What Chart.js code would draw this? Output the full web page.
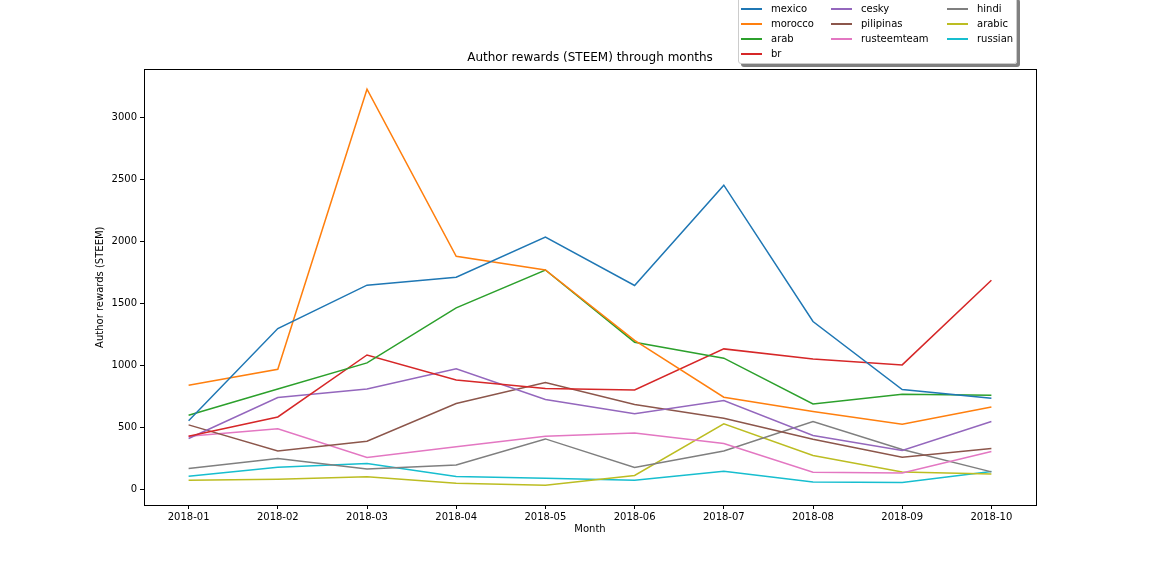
<!DOCTYPE html>
<html>
<head>
<meta charset="utf-8">
<script src="https://cdn.jsdelivr.net/npm/chart.js@4"></script>
<style>
  html, body { margin: 0; padding: 0; background: #fff; }
  #wrap { position: relative; width: 1152px; height: 576px; overflow: hidden; }
  #legend {
    position: absolute; left: 738px; top: -4px; width: 277px; height: 66px;
    background: rgba(255,255,255,0.9); border: 1px solid #cccccc; border-radius: 3px;
    box-shadow: 3px 3px 0 #808080;
    font-family: "DejaVu Sans", sans-serif; font-size: 10px; color: #000;
  }
  .item { position: absolute; height: 12px; line-height: 12px; white-space: nowrap; }
  .item .sw { position: absolute; left: 0; top: 5px; width: 21px; height: 2px; }
  .item .tx { position: absolute; left: 30px; top: 0; }
</style>
</head>
<body>
<div id="wrap">
  <canvas id="c" width="1152" height="576"></canvas>
  <div id="legend"></div>
</div>
<script>
const months = ['2018-01','2018-02','2018-03','2018-04','2018-05','2018-06','2018-07','2018-08','2018-09','2018-10'];
const mexico      = [555, 1298, 1648, 1712, 2035, 1645, 2454, 1355, 806, 736];
const morocco     = [841, 970, 3228, 1881, 1770, 1202, 744, 629, 527, 666];
const arab        = [599, 811, 1021, 1465, 1770, 1188, 1059, 690, 768, 760];
const br          = [430, 585, 1085, 884, 815, 803, 1134, 1053, 1005, 1688];
const cesky       = [411, 742, 811, 973, 726, 610, 718, 435, 315, 548];
const pilipinas   = [521, 311, 390, 694, 863, 685, 575, 406, 260, 331];
const rusteemteam = [430, 489, 258, 345, 430, 456, 371, 140, 134, 306];
const hindi       = [169, 250, 166, 198, 408, 177, 311, 548, 323, 142];
const arabic      = [75, 83, 102, 51, 35, 113, 529, 274, 142, 126];
const russian     = [107, 180, 210, 105, 91, 75, 148, 61, 56, 145];
const yTicks      = [0, 500, 1000, 1500, 2000, 2500, 3000];

const seriesNames = ['mexico','morocco','arab','br','cesky','pilipinas','rusteemteam','hindi','arabic','russian'];
const seriesData = [mexico, morocco, arab, br, cesky, pilipinas, rusteemteam, hindi, arabic, russian];
const colors = ['#1f77b4','#ff7f0e','#2ca02c','#d62728','#9467bd','#8c564b','#e377c2','#7f7f7f','#bcbd22','#17becf'];

const FONT = '"DejaVu Sans", sans-serif';
Chart.defaults.font.family = FONT;
Chart.defaults.font.size = 10;
Chart.defaults.color = '#000';

const frame = {
  id: 'frame',
  afterDraw(chart) {
    const a = chart.chartArea, ctx = chart.ctx;
    ctx.save();
    ctx.strokeStyle = '#000';
    ctx.lineWidth = 1;
    ctx.strokeRect(Math.round(a.left) + 0.5, Math.round(a.top) + 0.5,
                   Math.round(a.right - a.left), Math.round(a.bottom - a.top));
    ctx.restore();
  }
};

new Chart(document.getElementById('c'), {
  type: 'line',
  data: {
    labels: months,
    datasets: seriesData.map((d, i) => ({
      label: seriesNames[i], data: d, borderColor: colors[i], backgroundColor: colors[i],
      borderWidth: 1.5, pointRadius: 0, tension: 0, fill: false
    }))
  },
  options: {
    responsive: false, animation: false, devicePixelRatio: 1,
    layout: { padding: { left: 90, right: 116, top: 0, bottom: 37 } },
    plugins: {
      legend: { display: false },
      tooltip: { enabled: false },
      title: {
        display: true, text: 'Author rewards (STEEM) through months', fullSize: false,
        font: { size: 12, weight: 'normal' }, color: '#000', padding: { top: 51, bottom: 4 }
      }
    },
    scales: {
      x: {
        offset: true,
        grid: { display: true, drawOnChartArea: false, drawTicks: true, tickLength: 4, color: '#000' },
        border: { display: false },
        ticks: { padding: 2, maxRotation: 0, autoSkip: false },
        title: { display: true, text: 'Month', padding: { top: 4, bottom: 4 } },
        afterFit(s) { s.height = 34; }
      },
      y: {
        min: -125, max: 3388,
        grid: { display: true, drawOnChartArea: false, drawTicks: true, tickLength: 4, color: '#000' },
        border: { display: false },
        ticks: { padding: 3, callback: (v) => String(v) },
        afterBuildTicks(s) { s.ticks = yTicks.map(v => ({ value: v })); },
        title: { display: true, text: 'Author rewards (STEEM)', padding: { top: 4, bottom: 4 } },
        afterFit(s) { s.width = 54; }
      }
    }
  },
  plugins: [frame]
});

// legend (matplotlib-style, column-major, 3 columns)
const leg = document.getElementById('legend');
const colX = [2, 92, 208];
seriesNames.forEach((name, i) => {
  let col, row;
  if (i < 4) { col = 0; row = i; } else if (i < 7) { col = 1; row = i - 4; } else { col = 2; row = i - 7; }
  const it = document.createElement('div');
  it.className = 'item';
  it.style.left = colX[col] + 'px';
  it.style.top = (6 + row * 15) + 'px';
  it.innerHTML = '<span class="sw" style="background:' + colors[i] + '"></span><span class="tx">' + name + '</span>';
  leg.appendChild(it);
});
</script>
</body>
</html>
